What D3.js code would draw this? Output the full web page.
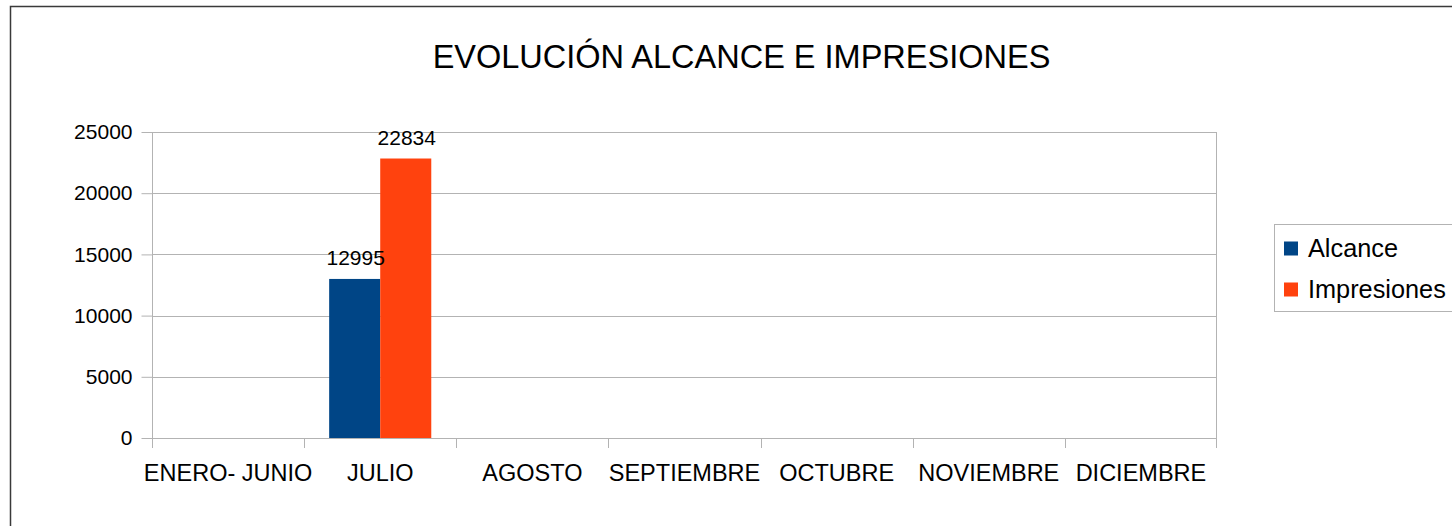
<!DOCTYPE html>
<html>
<head>
<meta charset="utf-8">
<script src="https://cdn.jsdelivr.net/npm/d3@7"></script>
<style>
  body { margin: 0; background: #fff; }
  text { font-family: "Liberation Sans", Arial, sans-serif; fill: #000; }
</style>
</head>
<body>
<script>
// chart data
var categories = ["ENERO- JUNIO", "JULIO", "AGOSTO", "SEPTIEMBRE", "OCTUBRE", "NOVIEMBRE", "DICIEMBRE"];
var series = ["Alcance", "Impresiones"];
var alcance = [null, 12995, null, null, null, null, null];
var impresiones = [null, 22834, null, null, null, null, null];
var yTicks = [0, 5000, 10000, 15000, 20000, 25000];
var colors = ["#004586", "#ff420e"];
var title = "EVOLUCIÓN ALCANCE E IMPRESIONES";

var values = [alcance, impresiones];

var fullwidth = 1452, fullheight = 526;
var plot = {left: 152, right: 1217, top: 132, bottom: 438};

var svg = d3.select("body").append("svg")
    .attr("width", fullwidth)
    .attr("height", fullheight);

// outer frame
svg.append("rect")
    .attr("x", 10.5).attr("y", 6.5)
    .attr("width", 1460).attr("height", 540)
    .attr("fill", "none")
    .attr("stroke", "#3a3a3a")
    .attr("stroke-width", 1.5);

// title
svg.append("text")
    .attr("x", 741.5)
    .attr("y", 68)
    .style("text-anchor", "middle")
    .style("font-size", "32.5px")
    .text(title);

// scales
var x0 = d3.scaleBand().domain(categories).range([plot.left, plot.right]).padding(0);
var x1 = d3.scaleBand().domain(series).range([0, x0.bandwidth()]).paddingInner(0).paddingOuter(0.49);
var y = d3.scaleLinear().domain([0, 25000]).range([plot.bottom, plot.top]);

// gridlines
svg.append("g")
    .selectAll("line")
    .data(yTicks)
  .enter().append("line")
    .attr("x1", plot.left).attr("x2", plot.right)
    .attr("y1", function(d) { return Math.round(y(d)) + 0.5; })
    .attr("y2", function(d) { return Math.round(y(d)) + 0.5; })
    .attr("stroke", "#b3b3b3");

// y axis
var yAxis = svg.append("g")
    .attr("transform", "translate(" + (plot.left + 0.5) + ",0)")
    .call(d3.axisLeft(y).tickValues(yTicks).tickSize(11).tickPadding(9).tickFormat(d3.format("d")));
yAxis.select(".domain").remove();
yAxis.selectAll(".tick line").attr("stroke", "#b3b3b3");
yAxis.selectAll(".tick text")
    .style("font-size", "21px")
    .style("font-family", "'Liberation Sans', Arial, sans-serif")
    .attr("fill", "#000");

// plot side lines
svg.append("line")
    .attr("x1", plot.left + 0.5).attr("x2", plot.left + 0.5)
    .attr("y1", plot.top).attr("y2", plot.bottom + 10)
    .attr("stroke", "#b3b3b3");
svg.append("line")
    .attr("x1", plot.right - 0.5).attr("x2", plot.right - 0.5)
    .attr("y1", plot.top).attr("y2", plot.bottom + 10)
    .attr("stroke", "#b3b3b3");

// category boundary ticks
svg.append("g")
    .selectAll("line")
    .data(categories.slice(1))
  .enter().append("line")
    .attr("x1", function(d) { return Math.round(x0(d)) + 0.5; })
    .attr("x2", function(d) { return Math.round(x0(d)) + 0.5; })
    .attr("y1", plot.bottom).attr("y2", plot.bottom + 10)
    .attr("stroke", "#b3b3b3");

// x axis labels
var xAxis = svg.append("g")
    .attr("transform", "translate(0," + plot.bottom + ")")
    .call(d3.axisBottom(x0).tickSize(0).tickPadding(26));
xAxis.select(".domain").remove();
xAxis.selectAll(".tick text")
    .style("font-size", "23.5px")
    .style("font-family", "'Liberation Sans', Arial, sans-serif")
    .attr("fill", "#000");

// bars
var groups = svg.append("g")
    .selectAll("g")
    .data(series)
  .enter().append("g")
    .attr("fill", function(d, i) { return colors[i]; });

groups.each(function(s, si) {
  var pts = categories.map(function(c, ci) { return {cat: c, value: values[si][ci]}; })
      .filter(function(d) { return d.value != null; });

  d3.select(this).selectAll("rect")
      .data(pts)
    .enter().append("rect")
      .attr("x", function(d) { return x0(d.cat) + x1(s); })
      .attr("y", function(d) { return y(d.value); })
      .attr("width", x1.bandwidth())
      .attr("height", function(d) { return y(0) - y(d.value); });

  svg.selectAll(".lbl" + si)
      .data(pts)
    .enter().append("text")
      .attr("class", "lbl" + si)
      .attr("x", function(d) { return x0(d.cat) + x1(s) + x1.bandwidth() / 2 + 1; })
      .attr("y", function(d) { return y(d.value) - 14; })
      .style("text-anchor", "middle")
      .style("font-size", "21px")
      .text(function(d) { return d.value; });
});

// legend
var lg = svg.append("g");
lg.append("rect")
    .attr("x", 1274.5).attr("y", 224.5)
    .attr("width", 200).attr("height", 87)
    .attr("fill", "#fff")
    .attr("stroke", "#b3b3b3");

var item = lg.selectAll(".legend")
    .data(series)
  .enter().append("g")
    .attr("class", "legend")
    .attr("transform", function(d, i) { return "translate(0," + i * 41 + ")"; });

item.append("rect")
    .attr("x", 1284).attr("y", 241.5)
    .attr("width", 14).attr("height", 14)
    .style("fill", function(d, i) { return colors[i]; });

item.append("text")
    .attr("x", 1308).attr("y", 256.7)
    .style("font-size", "25.3px")
    .text(function(d) { return d; });
</script>
</body>
</html>
